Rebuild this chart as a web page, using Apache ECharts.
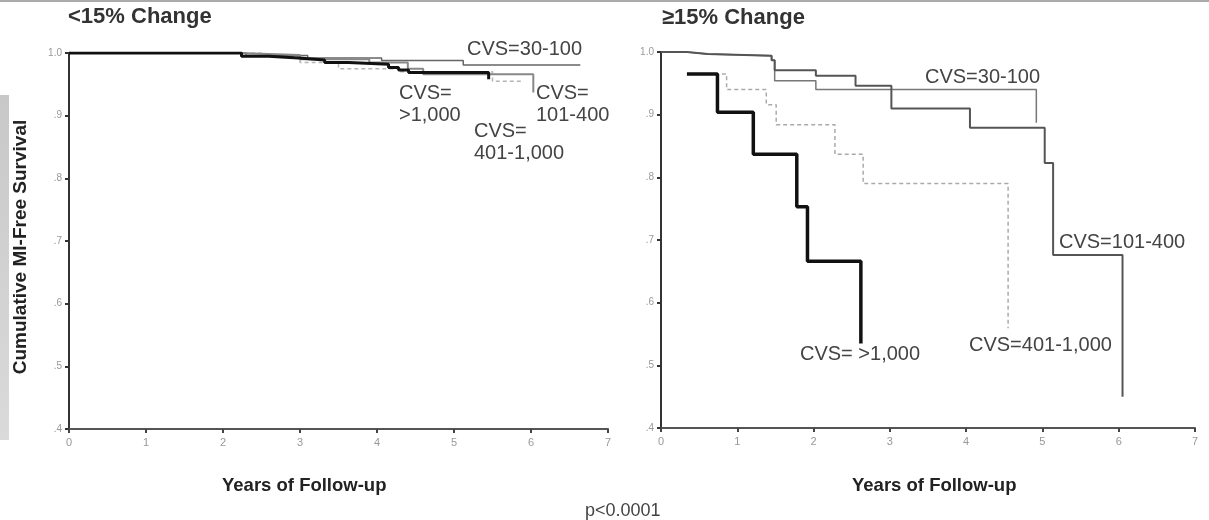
<!DOCTYPE html>
<html><head><meta charset="utf-8">
<script src="https://cdn.jsdelivr.net/npm/echarts@6/dist/echarts.min.js"></script>
<style>html,body{margin:0;padding:0;background:#fff}#c{width:1209px;height:520px}</style>
</head><body><div id="c"></div>
<script>
// Tick labels
const xTickLabels = ['0','1','2','3','4','5','6','7'];
const yTickLabels = ['.4','.5','.6','.7','.8','.9','1.0'];

// Left panel: <15% change  [year, survival]
const L_cvs30_100   = [[0,1.0],[2.3,0.996],[3.1,0.992],[4.06,0.988],[5.12,0.981],[6.64,0.981]];
const L_cvs101_400  = [[0,1.0],[2.2,0.997],[3.0,0.99],[3.9,0.985],[4.4,0.975],[4.6,0.966],[6.03,0.937]];
const L_cvs401_1000 = [[0,1.0],[2.5,0.995],[3.0,0.985],[3.5,0.975],[4.3,0.97],[5.5,0.955],[5.9,0.955]];
const L_cvsGt1000   = [[0,1.0],[2.24,0.995],[2.59,0.992],[2.98,0.989],[3.32,0.985],[3.63,0.982],[4.15,0.977],[4.28,0.973],[4.41,0.969],[5.45,0.958]];

// Right panel: >=15% change
const R_cvs30_100   = [[0,1.0],[0.34,0.997],[0.61,0.994],[1.45,0.987],[1.49,0.954],[2.03,0.94],[4.92,0.887]];
const R_cvs101_400  = [[0,1.0],[0.34,0.997],[0.61,0.994],[1.45,0.987],[1.49,0.971],[2.03,0.962],[2.55,0.946],[3.02,0.91],[4.05,0.879],[5.03,0.823],[5.14,0.676],[6.05,0.45]];
const R_cvs401_1000 = [[0.34,0.965],[0.86,0.94],[1.38,0.916],[1.51,0.884],[2.28,0.837],[2.65,0.79],[4.55,0.559]];
const R_cvsGt1000   = [[0.34,0.965],[0.74,0.904],[1.21,0.837],[1.78,0.753],[1.92,0.666],[2.62,0.535]];

const FONT = '"Liberation Sans", Arial, sans-serif';
const chart = echarts.init(document.getElementById('c'), null, {renderer:'canvas'});

function xAxis(gi){
  return {gridIndex:gi, type:'value', min:0, max:7, interval:1,
    axisLine:{show:true, onZero:false, lineStyle:{color:'#555', width:2}},
    axisTick:{show:true, length:4, inside:false, lineStyle:{color:'#444', width:2}},
    axisLabel:{color:'#999', fontSize:11, fontFamily:FONT, margin:8,
      formatter:(v,i)=>xTickLabels[i]},
    splitLine:{show:false}};
}
function yAxis(gi){
  return {gridIndex:gi, type:'value', min:0.4, max:1.0, interval:0.1,
    axisLine:{show:true, lineStyle:{color:'#333', width:2}},
    axisTick:{show:true, length:4, lineStyle:{color:'#333', width:2}},
    axisLabel:{color:'#999', fontSize:10, fontFamily:FONT, margin:7,
      formatter:(v,i)=>yTickLabels[i]},
    splitLine:{show:false}};
}
function s(data, gi, color, width, type, z){
  return {type:'line', xAxisIndex:gi, yAxisIndex:gi, data:data, step:'end',
    symbol:'none', silent:true, z:z||2,
    lineStyle:{color:color, width:width, type:type||'solid'}};
}
const lab = (x,y,t)=>({type:'text', left:x, top:y,
  style:{text:t, fill:'#444', font:'20px '+FONT, lineHeight:22}});

chart.setOption({
  animation:false,
  grid:[{left:69, top:53, width:539, height:376},
        {left:661, top:52, width:534, height:376}],
  xAxis:[xAxis(0), xAxis(1)],
  yAxis:[yAxis(0), yAxis(1)],
  series:[
    s(L_cvs401_1000,0,'#b5b5b5',1.5,[4,3],2),
    s(L_cvs30_100,0,'#666',1.5,'solid',3),
    s(L_cvs101_400,0,'#888',2,'solid',3),
    s(L_cvsGt1000,0,'#111',3,'solid',4),
    s(R_cvs401_1000,1,'#aaa',1.5,[4,3],2),
    s(R_cvs30_100,1,'#777',1.5,'solid',3),
    s(R_cvs101_400,1,'#555',2,'solid',3),
    s(R_cvsGt1000,1,'#111',3.5,'solid',4)
  ],
  graphic:[
    {type:'rect', left:0, top:0, shape:{width:1209, height:2}, style:{fill:'#aaa'}},
    {type:'rect', left:0, top:95, shape:{width:9, height:345},
      style:{fill:new echarts.graphic.LinearGradient(0,0,0,1,[{offset:0,color:'#c8c8c8'},{offset:1,color:'#dadada'}])}},
    {type:'text', left:68, top:6, style:{text:'<15% Change', fill:'#333', font:'bold 22px '+FONT}},
    {type:'text', left:662, top:7, style:{text:'≥15% Change', fill:'#333', font:'bold 22px '+FONT}},
    {type:'text', x:21, y:247, rotation:Math.PI/2,
      style:{text:'Cumulative MI-Free Survival', fill:'#222', font:'bold 19px '+FONT,
        textAlign:'center', textVerticalAlign:'middle'}},
    {type:'text', left:222, top:476, style:{text:'Years of Follow-up', fill:'#222', font:'bold 18.5px '+FONT}},
    {type:'text', left:852, top:476, style:{text:'Years of Follow-up', fill:'#222', font:'bold 18.5px '+FONT}},
    {type:'text', left:585, top:502, style:{text:'p<0.0001', fill:'#444', font:'18px '+FONT}},
    lab(467,38,'CVS=30-100'),
    lab(399,82,'CVS=\n>1,000'),
    lab(536,82,'CVS=\n101-400'),
    lab(474,120,'CVS=\n401-1,000'),
    lab(925,66,'CVS=30-100'),
    lab(1059,231,'CVS=101-400'),
    lab(800,343,'CVS= >1,000'),
    lab(969,334,'CVS=401-1,000')
  ]
});
</script></body></html>
